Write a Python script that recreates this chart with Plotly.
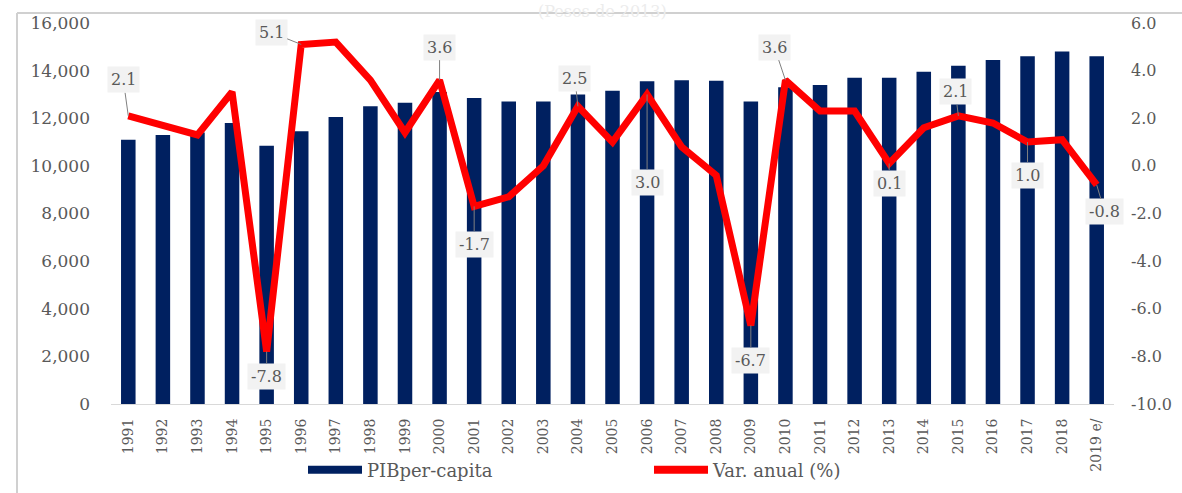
import plotly.graph_objects as go

years = ["1991", "1992", "1993", "1994", "1995", "1996", "1997", "1998", "1999", "2000",
         "2001", "2002", "2003", "2004", "2005", "2006", "2007", "2008", "2009", "2010",
         "2011", "2012", "2013", "2014", "2015", "2016", "2017", "2018", "2019 e/"]
pib_per_capita = [11100, 11300, 11400, 11800, 10850, 11450, 12050, 12500, 12650, 13100,
                  12850, 12700, 12700, 13000, 13150, 13550, 13600, 13580, 12700, 13300,
                  13400, 13700, 13700, 13950, 14200, 14450, 14600, 14800, 14600]
var_anual = [2.1, 1.7, 1.3, 3.1, -7.8, 5.1, 5.2, 3.6, 1.4, 3.6,
             -1.7, -1.3, 0.0, 2.5, 1.0, 3.0, 0.8, -0.4, -6.7, 3.6,
             2.3, 2.3, 0.1, 1.6, 2.1, 1.8, 1.0, 1.1, -0.8]
labeled_years = ["1991", "1995", "1996", "2000", "2001", "2004", "2006", "2009",
                 "2010", "2013", "2015", "2017", "2019 e/"]
right_ticks = [-10, -8, -6, -4, -2, 0, 2, 4, 6]
# label box offsets (pixels) relative to the point
label_offsets = {
    "1991": (-5, -36), "1995": (0, 25), "1996": (-30, -12), "2000": (0, -33),
    "2001": (0, 38), "2004": (-3, -28), "2006": (0, 88), "2009": (0, 35),
    "2010": (-11, -33), "2013": (0, 20), "2015": (-3, -24), "2017": (0, 33),
    "2019 e/": (8, 27),
}

font_family = "DejaVu Serif, Liberation Serif, serif"
grey = "#595959"
navy = "#002060"

fig = go.Figure()
fig.add_trace(go.Bar(
    x=years, y=pib_per_capita, name="PIBper-capita", showlegend=False,
    marker=dict(color=navy, line=dict(width=0)),
))
fig.add_trace(go.Scatter(
    x=years, y=var_anual, name="Var. anual (%)", yaxis="y2", showlegend=False,
    mode="lines", line=dict(color="#ff0000", width=7),
))
# legend swatches (wide rectangles as in the original)
fig.add_trace(go.Scatter(
    x=[None], y=[None], name="PIBper-capita", mode="lines",
    line=dict(color=navy, width=8),
))
fig.add_trace(go.Scatter(
    x=[None], y=[None], name="Var. anual (%)", mode="lines", yaxis="y2",
    line=dict(color="#ff0000", width=8),
))

annotations = []
for yr in labeled_years:
    i = years.index(yr)
    v = var_anual[i]
    ax, ay = label_offsets[yr]
    annotations.append(dict(
        x=i, y=v, xref="x", yref="y2", text=f"{v:.1f}",
        showarrow=True, arrowhead=0, arrowwidth=1, arrowcolor="#808080",
        ax=ax, ay=ay, bgcolor="#f2f2f2", borderpad=3,
        font=dict(family=font_family, size=16, color=grey),
    ))
annotations.append(dict(
    x=0.49, y=1.0, xref="paper", yref="paper", text="(Pesos de 2013)",
    showarrow=False, yanchor="bottom", font=dict(family=font_family, size=16, color="#ececec"),
))

W, H = 1182, 493
L, R, T, B = 111, 68, 23, 89
pw, ph = W - L - R, H - T - B

def px(xs):
    return (xs - L) / pw

def py(ys):
    return (H - B - ys) / ph

fig.update_layout(
    width=W, height=H,
    margin=dict(l=L, r=R, t=T, b=B, pad=0, autoexpand=False),
    paper_bgcolor="white", plot_bgcolor="white",
    bargap=0.58,
    font=dict(family=font_family, color=grey, size=15),
    xaxis=dict(
        type="category", range=[-0.5, len(years) - 0.5], tickangle=-90,
        showgrid=False, showline=True,
        linecolor="#d9d9d9", linewidth=1, ticks="", tickfont=dict(size=14),
        ticklabelstandoff=8, automargin=False,
    ),
    yaxis=dict(
        range=[0, 16000], dtick=2000, tickformat=",", showgrid=False,
        zeroline=False, showline=False, tickfont=dict(size=17), ticks="",
        ticklabelstandoff=20, automargin=False,
    ),
    yaxis2=dict(
        range=[-10, 6], tickvals=right_ticks,
        ticktext=[f"{v:.1f}" for v in right_ticks],
        overlaying="y", side="right",
        showgrid=False, zeroline=False, showline=False, tickfont=dict(size=16),
        ticks="", ticklabelstandoff=16, automargin=False,
    ),
    legend=dict(
        orientation="h", x=px(303), xanchor="left", y=py(470), yanchor="middle",
        font=dict(size=18, color=grey), entrywidth=277, itemwidth=54,
        bgcolor="rgba(0,0,0,0)",
    ),
    annotations=annotations,
    shapes=[
        dict(type="line", xref="paper", yref="paper", x0=px(17), x1=px(1190),
             y0=py(13), y1=py(13), line=dict(color="#d0d0d0", width=2)),
        dict(type="line", xref="paper", yref="paper", x0=px(17), x1=px(17),
             y0=py(13), y1=py(500), line=dict(color="#d0d0d0", width=2)),
    ],
)

fig.write_html(
    "out.html",
    config={"displayModeBar": False},
    post_script="document.body.style.margin='0';document.body.style.overflow='hidden';",
)
